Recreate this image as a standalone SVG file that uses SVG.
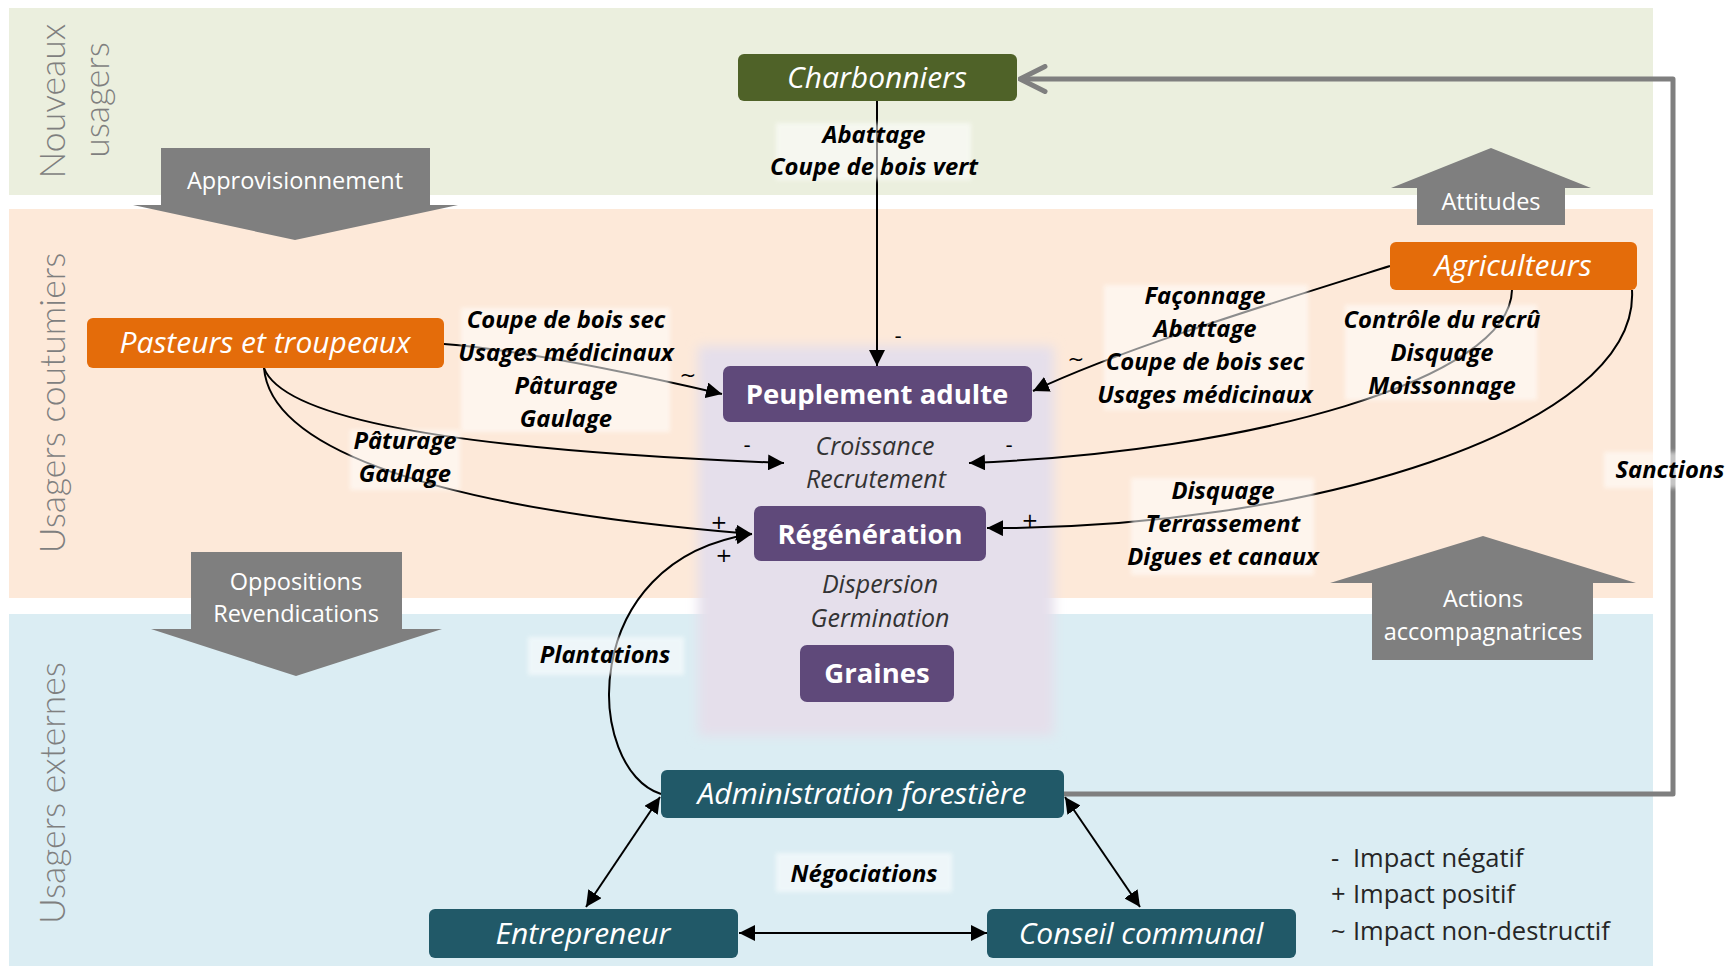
<svg xmlns="http://www.w3.org/2000/svg" width="1731" height="966" viewBox="0 0 1731 966">
<style>
.band-label{font-family:Lato,"Open Sans",sans-serif;font-weight:300;font-size:35.5px;fill:#7f7f7f}
.blk{fill:#7f7f7f}
.blk-t{font-family:"Open Sans",Lato,sans-serif;font-size:23.5px;fill:#fff;text-anchor:middle}
.node-t{font-family:"Open Sans",Lato,sans-serif;font-size:28px;fill:#fff;text-anchor:middle}
.it{font-style:italic;font-size:30px}
.bd{font-weight:bold;font-size:27.5px}
.lbl{font-family:"Open Sans",Lato,sans-serif;font-size:23.8px;font-weight:bold;font-style:italic;fill:#000;text-anchor:middle}
.sub{font-family:"Open Sans",Lato,sans-serif;font-size:25px;font-style:italic;fill:#333;text-anchor:middle}
.sym{font-family:"DejaVu Sans",sans-serif;font-size:20px;fill:#000;text-anchor:middle}
.leg{font-family:"Open Sans",Lato,sans-serif;font-size:25.5px;fill:#262626}
.conn{fill:none;stroke:#000;stroke-width:2}
.lbg{fill:#fff;opacity:0.55}
</style>
<defs>
<marker id="ah" viewBox="0 0 10 10" refX="10" refY="5" markerWidth="16" markerHeight="16" markerUnits="userSpaceOnUse" orient="auto-start-reverse">
<path d="M0,0 L10,5 L0,10 z" fill="#000"/>
</marker>
<marker id="chev" viewBox="0 0 12 12" refX="11" refY="6" markerWidth="30" markerHeight="30" markerUnits="userSpaceOnUse" orient="auto">
<path d="M1,1 L11,6 L1,11" fill="none" stroke="#7f7f7f" stroke-width="2" stroke-linecap="round" stroke-linejoin="round"/>
</marker>
<filter id="soft" x="-10%" y="-10%" width="120%" height="120%"><feGaussianBlur stdDeviation="6"/></filter>
<filter id="soft2" x="-10%" y="-20%" width="120%" height="140%"><feGaussianBlur stdDeviation="2"/></filter>
</defs>

<g id="bands">
<rect x="9" y="8" width="1644" height="187" fill="#ebefde"/>
<rect x="9" y="209" width="1644" height="389" fill="#fde9d9"/>
<rect x="9" y="614" width="1644" height="352" fill="#dbedf3"/>
<rect x="698" y="346" width="356" height="390" fill="#e5dfeb" filter="url(#soft)"/>
<text class="band-label" transform="translate(65,101) rotate(-90)" text-anchor="middle">Nouveaux</text>
<text class="band-label" transform="translate(109,100) rotate(-90)" text-anchor="middle">usagers</text>
<text class="band-label" transform="translate(65,403) rotate(-90)" text-anchor="middle">Usagers coutumiers</text>
<text class="band-label" transform="translate(65,793) rotate(-90)" text-anchor="middle">Usagers externes</text>
</g>

<g id="block-arrows">
<g id="approvisionnement">
<polygon class="blk" points="161,148 430,148 430,205 458,205 295,240 133,205 161,205"/>
<text class="blk-t" x="295" y="189">Approvisionnement</text>
</g>
<g id="attitudes">
<polygon class="blk" points="1491,148 1591,188 1565,188 1565,225 1417,225 1417,188 1391,188"/>
<text class="blk-t" x="1491" y="210">Attitudes</text>
</g>
<g id="oppositions">
<polygon class="blk" points="191,552 402,552 402,629 442,629 296,676 151,629 191,629"/>
<text class="blk-t" x="296" y="590">Oppositions</text>
<text class="blk-t" x="296" y="622">Revendications</text>
</g>
<g id="actions">
<polygon class="blk" points="1483,536 1636,583 1593,583 1593,660 1372,660 1372,583 1330,583"/>
<text class="blk-t" x="1483" y="607">Actions</text>
<text class="blk-t" x="1483" y="640">accompagnatrices</text>
</g>
</g>

<g id="connectors">
<path class="conn" d="M877,101 L877,366" marker-end="url(#ah)"/>
<path class="conn" d="M444,344 C 520,350 640,375 722,394" marker-end="url(#ah)"/>
<path class="conn" d="M264,368 C 280,410 400,448 784,463" marker-end="url(#ah)"/>
<path class="conn" d="M264,368 C 270,440 400,505 752,534" marker-end="url(#ah)"/>
<path class="conn" d="M661,794 C 585,770 575,560 752,534" marker-end="url(#ah)"/>
<path class="conn" d="M1390,266 C 1250,310 1120,350 1033,391" marker-end="url(#ah)"/>
<path class="conn" d="M1512,290 C 1510,380 1250,452 969,463" marker-end="url(#ah)"/>
<path class="conn" d="M1632,290 C 1640,430 1300,530 987,528" marker-end="url(#ah)"/>
<path class="conn" d="M586,907 L660,797" marker-start="url(#ah)" marker-end="url(#ah)"/>
<path class="conn" d="M1065,797 L1140,907" marker-start="url(#ah)" marker-end="url(#ah)"/>
<path class="conn" d="M739,933 L987,933" marker-start="url(#ah)" marker-end="url(#ah)"/>
<path d="M1064,794 L1673,794 L1673,79 L1020,79" fill="none" stroke="#7f7f7f" stroke-width="5" stroke-linejoin="round" marker-end="url(#chev)"/>
</g>

<g id="labels">
<rect class="lbg" x="776" y="123" width="195" height="57" filter="url(#soft2)"/>
<rect class="lbg" x="461" y="308" width="209" height="124" filter="url(#soft2)"/>
<rect class="lbg" x="350" y="430" width="110" height="60" filter="url(#soft2)"/>
<rect class="lbg" x="1104" y="285" width="204" height="125" filter="url(#soft2)"/>
<rect class="lbg" x="1345" y="305" width="192" height="95" filter="url(#soft2)"/>
<rect class="lbg" x="1131" y="478" width="183" height="97" filter="url(#soft2)"/>
<rect class="lbg" x="528" y="637" width="156" height="38" filter="url(#soft2)"/>
<rect class="lbg" x="776" y="853" width="176" height="39" filter="url(#soft2)"/>
<rect class="lbg" x="1604" y="452" width="127" height="36" filter="url(#soft2)"/>

<text class="lbl" x="874" y="143">Abattage</text>
<text class="lbl" x="874" y="175">Coupe de bois vert</text>
<text class="lbl" x="566" y="328">Coupe de bois sec</text>
<text class="lbl" x="566" y="361">Usages médicinaux</text>
<text class="lbl" x="566" y="394">Pâturage</text>
<text class="lbl" x="566" y="427">Gaulage</text>
<text class="lbl" x="405" y="449">Pâturage</text>
<text class="lbl" x="405" y="482">Gaulage</text>
<text class="lbl" x="1205" y="304">Façonnage</text>
<text class="lbl" x="1205" y="337">Abattage</text>
<text class="lbl" x="1205" y="370">Coupe de bois sec</text>
<text class="lbl" x="1205" y="403">Usages médicinaux</text>
<text class="lbl" x="1442" y="328">Contrôle du recrû</text>
<text class="lbl" x="1442" y="361">Disquage</text>
<text class="lbl" x="1442" y="394">Moissonnage</text>
<text class="lbl" x="1223" y="499">Disquage</text>
<text class="lbl" x="1223" y="532">Terrassement</text>
<text class="lbl" x="1223" y="565">Digues et canaux</text>
<text class="lbl" x="605" y="663">Plantations</text>
<text class="lbl" x="864" y="882">Négociations</text>
<text class="lbl" x="1670" y="478">Sanctions</text>

<text class="sub" x="875" y="455">Croissance</text>
<text class="sub" x="876" y="488">Recrutement</text>
<text class="sub" x="880" y="593">Dispersion</text>
<text class="sub" x="880" y="627">Germination</text>

<text class="sym" x="898" y="343">-</text>
<text class="sym" x="688" y="382">~</text>
<text class="sym" x="1076" y="366">~</text>
<text class="sym" x="747" y="452">-</text>
<text class="sym" x="1009" y="452">-</text>
<text class="sym" x="719" y="529">+</text>
<text class="sym" x="724" y="562">+</text>
<text class="sym" x="1030" y="527">+</text>
</g>

<g id="node-charbonniers">
<rect x="738" y="54" width="279" height="47" rx="6" fill="#4f6228"/>
<text class="node-t it" x="877" y="88">Charbonniers</text>
</g>
<g id="node-agriculteurs">
<rect x="1390" y="242" width="247" height="48" rx="6" fill="#e46c0a"/>
<text class="node-t it" x="1513" y="276">Agriculteurs</text>
</g>
<g id="node-pasteurs">
<rect x="87" y="318" width="357" height="50" rx="6" fill="#e46c0a"/>
<text class="node-t it" x="265" y="353">Pasteurs et troupeaux</text>
</g>
<g id="node-peuplement">
<rect x="723" y="366" width="309" height="56" rx="7" fill="#5f497a"/>
<text class="node-t bd" x="877" y="404">Peuplement adulte</text>
</g>
<g id="node-regeneration">
<rect x="754" y="506" width="232" height="55" rx="7" fill="#5f497a"/>
<text class="node-t bd" x="870" y="544">Régénération</text>
</g>
<g id="node-graines">
<rect x="800" y="645" width="154" height="57" rx="7" fill="#5f497a"/>
<text class="node-t bd" x="877" y="683">Graines</text>
</g>
<g id="node-administration">
<rect x="661" y="770" width="403" height="48" rx="6" fill="#215968"/>
<text class="node-t it" x="862" y="804">Administration forestière</text>
</g>
<g id="node-entrepreneur">
<rect x="429" y="909" width="309" height="49" rx="6" fill="#215968"/>
<text class="node-t it" x="583" y="944">Entrepreneur</text>
</g>
<g id="node-conseil">
<rect x="987" y="909" width="309" height="49" rx="6" fill="#215968"/>
<text class="node-t it" x="1141" y="944">Conseil communal</text>
</g>

<g id="legend">
<text class="leg" x="1331" y="867">-</text>
<text class="leg" x="1353" y="867">Impact négatif</text>
<text class="leg" x="1331" y="903">+</text>
<text class="leg" x="1353" y="903">Impact positif</text>
<text class="leg" x="1331" y="940">~</text>
<text class="leg" x="1353" y="940">Impact non-destructif</text>
</g>
</svg>
